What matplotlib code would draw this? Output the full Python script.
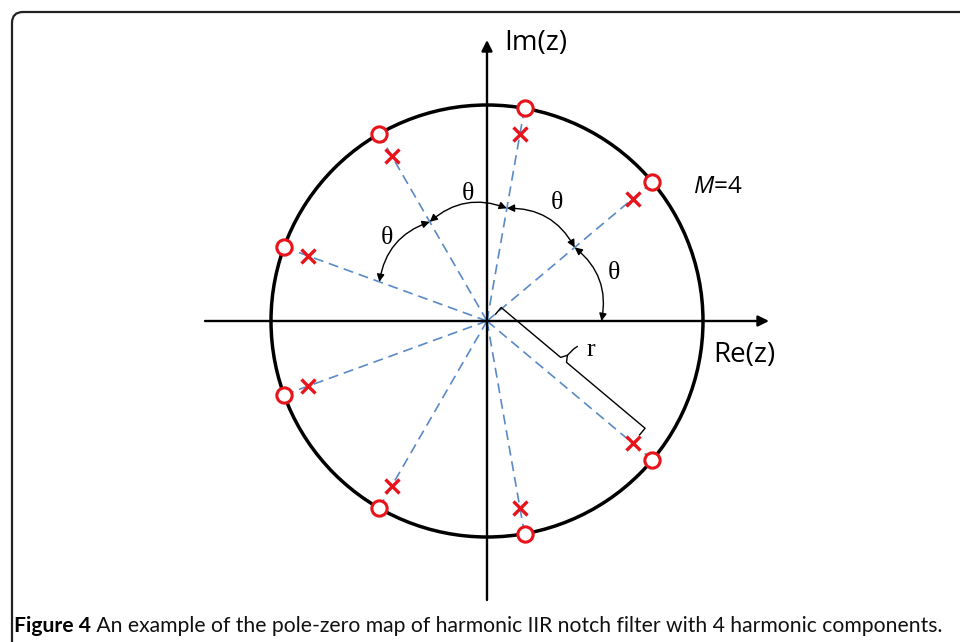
import numpy as np
import matplotlib
matplotlib.use("Agg")
import matplotlib.pyplot as plt
from matplotlib.patches import FancyBboxPatch, FancyArrowPatch, Circle

plt.rcParams['mathtext.fontset'] = 'custom'
plt.rcParams['mathtext.it'] = 'Open Sans:italic'
plt.rcParams['mathtext.rm'] = 'Open Sans'

# data
theta_deg = 40
zero_angles = [40, 80, 120, 160, -40, -80, -120, -160]
zero_r = 1.0
pole_r = 0.88
arc_pairs = [(0, 40), (40, 80), (80, 120), (120, 160)]
M = 4
caption_bold = "Figure 4"
caption_rest = " An example of the pole-zero map of harmonic IIR notch filter with 4 harmonic components."

R = 216.0  # pixels per unit
cx, cy = 487.0, 321.0
W, H = 960, 642

def px(x, y):
    return (x - cx) / R, (cy - y) / R

fig = plt.figure(figsize=(W / 100, H / 100), dpi=100)
ax = fig.add_axes([0, 0, 1, 1])
ax.set_xlim(-cx / R, (W - cx) / R)
ax.set_ylim(-(H - cy) / R, cy / R)
ax.axis('off')

# frame with rounded corner
x0, y0 = px(12, 12)
x1, y1 = px(1100, 800)
frame = FancyBboxPatch((x0, y1), x1 - x0, y0 - y1,
                       boxstyle="round,pad=0,rounding_size=%f" % (11 / R),
                       fc='none', ec='#222222', lw=1.6)
ax.add_patch(frame)

# axes with arrows
ax.annotate('', xy=px(769, 321), xytext=px(205, 321),
            arrowprops=dict(arrowstyle='-|>', lw=1.7, color='black',
                            mutation_scale=16, shrinkA=0, shrinkB=0))
ax.annotate('', xy=px(487, 40), xytext=px(487, 600),
            arrowprops=dict(arrowstyle='-|>', lw=1.7, color='black',
                            mutation_scale=16, shrinkA=0, shrinkB=0))

# unit circle
ax.add_patch(Circle((0, 0), 1.0, fill=False, lw=2.5, ec='black'))

# dashed radial lines, zeros and poles
ang = np.radians(zero_angles)
for a in ang:
    ax.plot([0, zero_r * np.cos(a)], [0, zero_r * np.sin(a)],
            ls=(0, (6, 3.5)), color='#5a8ac6', lw=1.2, zorder=2)
ax.plot(zero_r * np.cos(ang), zero_r * np.sin(ang), 'o', ms=11,
        mfc='white', mec='#e8141b', mew=2.2, zorder=4)
ax.plot(pole_r * np.cos(ang), pole_r * np.sin(ang), 'x', ms=9.5,
        mec='#e8141b', mew=2.4, zorder=4)

# angle arcs
ra = 0.53
for a0, a1 in arc_pairs:
    p0 = (ra * np.cos(np.radians(a0)), ra * np.sin(np.radians(a0)))
    p1 = (ra * np.cos(np.radians(a1)), ra * np.sin(np.radians(a1)))
    arr = FancyArrowPatch(p0, p1, connectionstyle='arc3,rad=0.3',
                          arrowstyle='<|-|>', mutation_scale=11,
                          lw=1.0, color='black', shrinkA=0, shrinkB=0, zorder=3)
    ax.add_patch(arr)

serif = 'Liberation Serif'
for (tx, ty) in [(468, 194), (557, 203), (387, 238), (614, 273)]:
    ax.text(*px(tx, ty), '\u03b8', fontsize=18.5, family=serif,
            ha='center', va='center')

# r bracket along -40 deg ray
a = np.radians(-theta_deg)
u = np.array([np.cos(a), np.sin(a)])
n = np.array([-np.sin(a), np.cos(a)])
if n[0] < 0:
    n = -n
off = 0.09
L = pole_r
pts = [0.01 * u + 0.05 * n, 0.01 * u + off * n,
       0.42 * L * u + off * n, 0.44 * L * u + (off + 0.028) * n,
       0.46 * L * u + off * n, L * u + off * n, L * u + 0.05 * n]
pts = np.array(pts)
ax.plot(pts[:, 0], pts[:, 1], color='black', lw=1.0, zorder=3)
pk = 0.44 * L * u + (off + 0.028) * n
ax.plot([pk[0], pk[0] + 0.03, pk[0] + 0.045], [pk[1], pk[1] + 0.03, pk[1] + 0.04],
        color='black', lw=1.0)
ax.text(*px(591, 350), 'r', fontsize=18.5, family=serif, ha='center', va='center')

# labels
ax.text(*px(504, 43), 'Im(z)', fontsize=20, family='Open Sans', ha='left', va='center')
ax.text(*px(713, 355), 'Re(z)', fontsize=20, family='Open Sans', ha='left', va='center')
ax.text(*px(693, 187), r'$M$=%d' % M, fontsize=17.5, family='Open Sans', ha='left', va='center')

# caption
fig.canvas.draw()
r = fig.canvas.get_renderer()
t1 = fig.text(14 / W, 1 - 632 / H, caption_bold, fontsize=15.2, family='Lato',
              weight='bold', ha='left', va='baseline')
bb = t1.get_window_extent(renderer=r)
fig.text(bb.x1 / W, 1 - 632 / H, caption_rest, fontsize=15.2, family='Lato',
         ha='left', va='baseline', color='#111111')

fig.savefig('out.png', dpi=100)
